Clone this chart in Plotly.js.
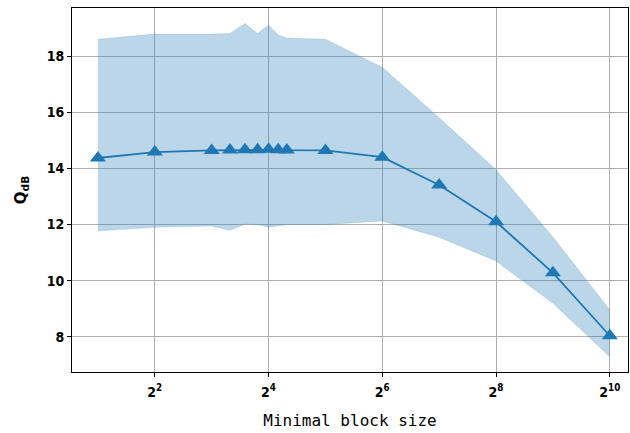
<!DOCTYPE html>
<html><head><meta charset="utf-8">
<script src="https://cdn.plot.ly/plotly-3.0.1.min.js"></script>
<style>html,body{margin:0;padding:0;background:#fff}</style>
</head><body>
<div id="chart" style="width:630px;height:433px"></div>
<script>
const blockSizes = [2, 4, 8, 10, 12, 14, 16, 18, 20, 32, 64, 128, 256, 512, 1024];
const meanQ =      [14.37, 14.58, 14.64, 14.65, 14.66, 14.66, 14.68, 14.66, 14.65, 14.64, 14.40, 13.41, 12.10, 10.28, 8.04];
const upperQ =     [18.60, 18.78, 18.78, 18.80, 19.16, 18.80, 19.10, 18.75, 18.64, 18.60, 17.60, 15.80, 13.95, 11.56, 8.96];
const lowerQ =     [11.77, 11.90, 11.95, 11.80, 12.02, 12.00, 11.90, 11.95, 12.00, 12.00, 12.13, 11.55, 10.70, 9.20, 7.29];
const xTickVals = [4, 16, 64, 256, 1024];
const xTickText = ['2<sup>2</sup>', '2<sup>4</sup>', '2<sup>6</sup>', '2<sup>8</sup>', '2<sup>10</sup>'];
const yTickVals = [8, 10, 12, 14, 16, 18];

const blue = '#1f77b4';
const traces = [
  {x: blockSizes, y: lowerQ, mode: 'lines', line: {width: 0.5, color: 'rgba(31,119,180,0.3)'}, hoverinfo: 'skip', showlegend: false},
  {x: blockSizes, y: upperQ, mode: 'lines', fill: 'tonexty', fillcolor: 'rgba(31,119,180,0.3)', line: {width: 0.5, color: 'rgba(31,119,180,0.3)'}, hoverinfo: 'skip', showlegend: false},
  {x: blockSizes, y: meanQ, mode: 'lines+markers', line: {color: blue, width: 1.8}, marker: {symbol: 'triangle-up', size: 14, color: blue}, showlegend: false}
];
const tickFont = {family: 'DejaVu Sans Condensed, sans-serif', size: 14, color: '#000', weight: 'bold'};
const layout = {
  width: 630, height: 433,
  margin: {l: 72, r: 2, t: 8, b: 61},
  paper_bgcolor: '#fff', plot_bgcolor: '#fff',
  font: {family: 'DejaVu Sans Mono, monospace', size: 12, color: '#000'},
  showlegend: false,
  xaxis: {
    type: 'log', range: [Math.log10(Math.pow(2, 0.544)), Math.log10(Math.pow(2, 10.32))],
    tickmode: 'array', tickvals: xTickVals, ticktext: xTickText,
    tickfont: tickFont, ticklabelstandoff: 3,
    showgrid: true, gridcolor: '#b0b0b0', gridwidth: 1,
    showline: true, linecolor: '#000', linewidth: 1, mirror: true,
    ticks: 'outside', ticklen: 4, tickcolor: '#000', zeroline: false,
    title: {text: 'Minimal block size', font: {family: 'DejaVu Sans Mono, monospace', size: 16, color: '#000'}, standoff: 16}
  },
  yaxis: {
    range: [6.75, 19.71],
    tickmode: 'array', tickvals: yTickVals,
    tickfont: tickFont,
    showgrid: true, gridcolor: '#b0b0b0', gridwidth: 1,
    showline: true, linecolor: '#000', linewidth: 1, mirror: true,
    ticks: 'outside', ticklen: 4, tickcolor: '#000', zeroline: false,
    title: {text: '<b>Q<sub>dB</sub></b>', font: {family: 'DejaVu Sans, sans-serif', size: 15, color: '#000'}, standoff: 16}
  }
};
Plotly.newPlot('chart', traces, layout, {displayModeBar: false, staticPlot: true});
</script>
</body></html>
